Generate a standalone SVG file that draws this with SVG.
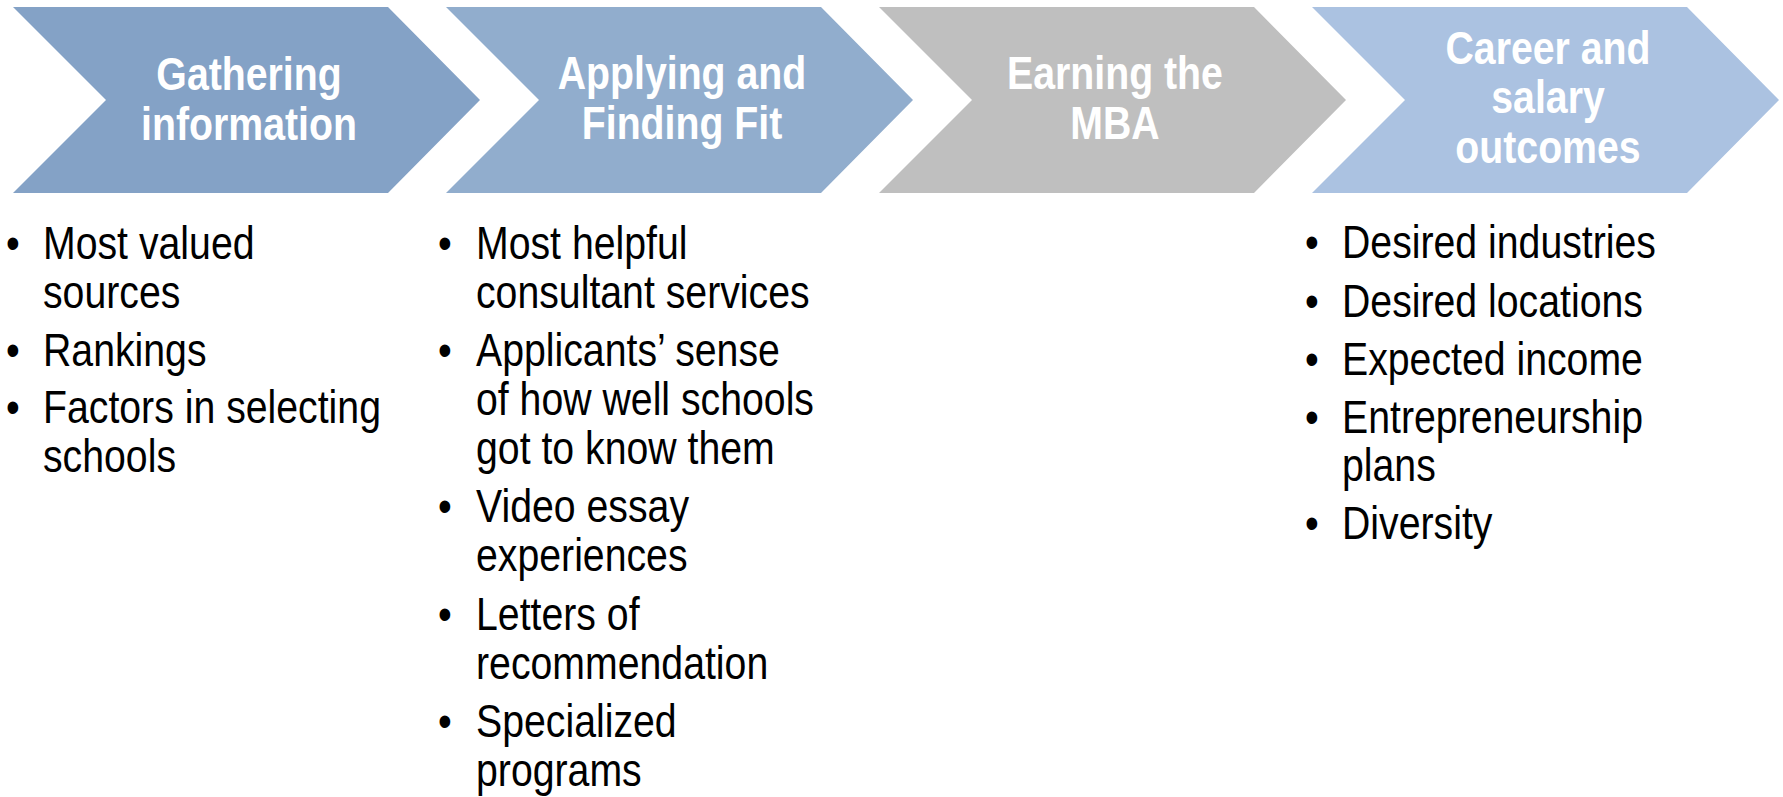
<svg xmlns="http://www.w3.org/2000/svg" width="1783" height="797" viewBox="0 0 1783 797">
<defs>
<style>
.title{font-family:"Liberation Sans",Arial,sans-serif;font-weight:bold;font-size:47px;fill:#ffffff;text-anchor:middle}
.item{font-family:"Liberation Sans",Arial,sans-serif;font-size:47px;fill:#000000}
</style>
<path id="chev" d="M0,7 H375 L467,100 L375,193 H0 L93,100 Z"/>
</defs>
<rect width="1783" height="797" fill="#ffffff"/>
<g id="stage1">
<use href="#chev" x="13" fill="#84A2C6"/>
<text class="title" transform="translate(249,90) scale(0.835,1)">Gathering</text>
<text class="title" transform="translate(249,140) scale(0.835,1)">information</text>
</g>
<g id="stage2">
<use href="#chev" x="446" fill="#91ADCD"/>
<text class="title" transform="translate(682,89) scale(0.835,1)">Applying and</text>
<text class="title" transform="translate(682,139) scale(0.835,1)">Finding Fit</text>
</g>
<g id="stage3">
<use href="#chev" x="879" fill="#BFBFBF"/>
<text class="title" transform="translate(1115,89) scale(0.835,1)">Earning the</text>
<text class="title" transform="translate(1115,139) scale(0.835,1)">MBA</text>
</g>
<g id="stage4">
<use href="#chev" x="1312" fill="#ABC2E1"/>
<text class="title" transform="translate(1548,64) scale(0.835,1)">Career and</text>
<text class="title" transform="translate(1548,113) scale(0.835,1)">salary</text>
<text class="title" transform="translate(1548,163) scale(0.835,1)">outcomes</text>
</g>
<g id="list1">
<text class="item" transform="translate(6,259) scale(0.835,1)">•</text>
<text class="item" transform="translate(43,259) scale(0.835,1)">Most valued</text>
<text class="item" transform="translate(43,308) scale(0.835,1)">sources</text>
<text class="item" transform="translate(6,366) scale(0.835,1)">•</text>
<text class="item" transform="translate(43,366) scale(0.835,1)">Rankings</text>
<text class="item" transform="translate(6,423) scale(0.835,1)">•</text>
<text class="item" transform="translate(43,423) scale(0.835,1)">Factors in selecting</text>
<text class="item" transform="translate(43,472) scale(0.835,1)">schools</text>
</g>
<g id="list2">
<text class="item" transform="translate(438,259) scale(0.835,1)">•</text>
<text class="item" transform="translate(476,259) scale(0.835,1)">Most helpful</text>
<text class="item" transform="translate(476,308) scale(0.835,1)">consultant services</text>
<text class="item" transform="translate(438,366) scale(0.835,1)">•</text>
<text class="item" transform="translate(476,366) scale(0.835,1)">Applicants’ sense</text>
<text class="item" transform="translate(476,415) scale(0.835,1)">of how well schools</text>
<text class="item" transform="translate(476,464) scale(0.835,1)">got to know them</text>
<text class="item" transform="translate(438,522) scale(0.835,1)">•</text>
<text class="item" transform="translate(476,522) scale(0.835,1)">Video essay</text>
<text class="item" transform="translate(476,571) scale(0.835,1)">experiences</text>
<text class="item" transform="translate(438,630) scale(0.835,1)">•</text>
<text class="item" transform="translate(476,630) scale(0.835,1)">Letters of</text>
<text class="item" transform="translate(476,679) scale(0.835,1)">recommendation</text>
<text class="item" transform="translate(438,737) scale(0.835,1)">•</text>
<text class="item" transform="translate(476,737) scale(0.835,1)">Specialized</text>
<text class="item" transform="translate(476,786) scale(0.835,1)">programs</text>
</g>
<g id="list4">
<text class="item" transform="translate(1305,258) scale(0.835,1)">•</text>
<text class="item" transform="translate(1342,258) scale(0.835,1)">Desired industries</text>
<text class="item" transform="translate(1305,317) scale(0.835,1)">•</text>
<text class="item" transform="translate(1342,317) scale(0.835,1)">Desired locations</text>
<text class="item" transform="translate(1305,375) scale(0.835,1)">•</text>
<text class="item" transform="translate(1342,375) scale(0.835,1)">Expected income</text>
<text class="item" transform="translate(1305,433) scale(0.835,1)">•</text>
<text class="item" transform="translate(1342,433) scale(0.835,1)">Entrepreneurship</text>
<text class="item" transform="translate(1342,481) scale(0.835,1)">plans</text>
<text class="item" transform="translate(1305,539) scale(0.835,1)">•</text>
<text class="item" transform="translate(1342,539) scale(0.835,1)">Diversity</text>
</g>
<g id="connectors"/>
</svg>
